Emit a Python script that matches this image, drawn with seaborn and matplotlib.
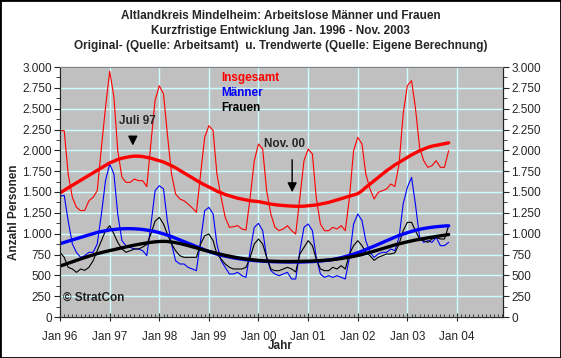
import pandas as pd
import seaborn as sns
import matplotlib.pyplot as plt
import matplotlib.dates as mdates
from matplotlib.ticker import FuncFormatter, MultipleLocator
from matplotlib.patches import Rectangle

sns.set_style("ticks")
plt.rcParams['font.family'] = ['Liberation Sans', 'DejaVu Sans']

# monthly values Jan 1996 - Nov 2003
months = pd.date_range('1996-01-01', periods=95, freq='MS')

insgesamt = [
    2236, 2236, 1716, 1436, 1316, 1276, 1280, 1396, 1436, 1516, 2036, 2516,
    2950, 2636, 1996, 1676, 1616, 1616, 1656, 1636, 1636, 1564, 2100, 2600,
    2776, 2676, 2200, 1716, 1476, 1416, 1396, 1356, 1308, 1256, 1716, 2156,
    2296, 2236, 1716, 1436, 1196, 1076, 1084, 1096, 1056, 1044, 1436, 1876,
    2076, 2016, 1516, 1236, 1076, 1036, 1056, 1096, 1036, 996, 1436, 1876,
    2016, 1956, 1436, 1116, 1036, 1036, 1076, 1056, 1096, 1036, 1436, 1996,
    2156, 2076, 1716, 1536, 1416, 1496, 1516, 1536, 1596, 1566, 1836, 2436,
    2776, 2836, 2516, 2036, 1876, 1796, 1816, 1876, 1796, 1796, 1996]

maenner = [
    1450, 1460, 1156, 876, 776, 716, 736, 776, 776, 876, 1236, 1636,
    1836, 1716, 1236, 916, 856, 836, 816, 816, 796, 736, 1116, 1516,
    1576, 1536, 1156, 876, 676, 636, 636, 596, 576, 556, 916, 1276,
    1316, 1236, 876, 676, 596, 516, 516, 536, 496, 476, 796, 1076,
    1124, 1036, 716, 556, 516, 496, 516, 536, 456, 456, 796, 1076,
    1116, 1036, 716, 516, 476, 496, 476, 496, 476, 456, 716, 1116,
    1236, 1156, 916, 776, 716, 756, 776, 776, 816, 796, 956, 1356,
    1556, 1676, 1356, 956, 896, 916, 896, 956, 856, 856, 896]

frauen = [
    776, 716, 596, 576, 536, 576, 560, 596, 676, 796, 916, 1036,
    1096, 996, 896, 816, 776, 796, 816, 816, 840, 870, 1000, 1150,
    1196, 1116, 996, 876, 796, 736, 716, 716, 716, 716, 876, 976,
    996, 916, 756, 696, 636, 596, 576, 576, 576, 596, 716, 876,
    936, 876, 716, 576, 556, 556, 576, 596, 576, 540, 756, 836,
    916, 856, 696, 576, 556, 556, 596, 576, 616, 576, 756, 856,
    916, 856, 776, 736, 680, 716, 736, 756, 756, 770, 876, 1036,
    1136, 1136, 1036, 936, 916, 896, 936, 956, 936, 936, 1096]

trend_insgesamt = [
    1490, 1520, 1550, 1580, 1610, 1640, 1670, 1700, 1730, 1760, 1790, 1820,
    1850, 1870, 1890, 1905, 1915, 1925, 1930, 1930, 1925, 1915, 1905, 1890,
    1875, 1860, 1840, 1815, 1790, 1760, 1730, 1700, 1670, 1640, 1610, 1585,
    1560, 1535, 1510, 1490, 1470, 1455, 1440, 1425, 1415, 1405, 1395, 1390,
    1385, 1375, 1365, 1355, 1348, 1342, 1338, 1334, 1331, 1329, 1328, 1330,
    1335, 1340, 1345, 1355, 1365, 1375, 1390, 1405, 1420, 1435, 1450, 1465,
    1480, 1515, 1555, 1595, 1635, 1675, 1715, 1755, 1790, 1825, 1855, 1885,
    1915, 1945, 1970, 1995, 2015, 2035, 2050, 2060, 2070, 2080, 2090]

trend_maenner = [
    880, 895, 910, 925, 940, 955, 970, 985, 1000, 1015, 1025, 1035,
    1045, 1050, 1055, 1058, 1060, 1060, 1058, 1055, 1050, 1043, 1035, 1025,
    1012, 998, 982, 965, 945, 925, 905, 885, 865, 845, 825, 805,
    785, 770, 755, 742, 730, 720, 710, 702, 695, 688, 682, 677,
    673, 670, 667, 665, 663, 662, 661, 660, 660, 660, 660, 661,
    663, 665, 668, 672, 677, 683, 690, 700, 712, 725, 740, 755,
    772, 790, 810, 830, 850, 872, 893, 915, 937, 958, 978, 995,
    1012, 1027, 1040, 1052, 1062, 1070, 1077, 1083, 1088, 1092, 1095]

trend_frauen = [
    612, 628, 645, 662, 680, 697, 713, 730, 745, 760, 773, 785,
    797, 808, 819, 830, 841, 852, 862, 872, 881, 889, 896, 902,
    906, 908, 906, 900, 892, 882, 870, 857, 843, 829, 815, 801,
    788, 775, 763, 751, 740, 730, 720, 711, 703, 696, 690, 684,
    679, 675, 672, 670, 668, 667, 666, 666, 666, 667, 668, 669,
    670, 672, 674, 677, 680, 684, 689, 695, 702, 710, 718, 728,
    738, 750, 762, 775, 790, 805, 820, 835, 850, 865, 878, 890,
    902, 913, 923, 932, 941, 950, 958, 966, 974, 982, 990]

series_names = ['Insgesamt', 'Männer', 'Frauen']
colors = ['#FF0000', '#0000FF', '#000000']

fig = plt.figure(figsize=(5.61, 3.58), dpi=100)
ax = fig.add_axes([60 / 561, 1 - 317 / 358, 443 / 561, 250 / 358])
ax.set_facecolor('#C0C0C0')

for vals, c in zip([insgesamt, maenner, frauen], colors):
    sns.lineplot(x=months, y=vals, color=c, linewidth=0.8, ax=ax)
for vals, c in zip([trend_insgesamt, trend_maenner, trend_frauen], colors):
    sns.lineplot(x=months, y=vals, color=c, linewidth=2.4, ax=ax)

thousands = FuncFormatter(lambda v, p: f"{v:,.0f}".replace(",", "."))

ax.set_xlim(pd.Timestamp('1996-01-01'), pd.Timestamp('2004-12-05'))
ax.set_ylim(0, 3000)
ax.yaxis.set_major_locator(MultipleLocator(250))
ax.yaxis.set_minor_locator(MultipleLocator(125))
ax.yaxis.set_major_formatter(thousands)
ax.xaxis.set_major_locator(mdates.YearLocator())
ax.xaxis.set_minor_locator(mdates.MonthLocator())
ax.xaxis.set_major_formatter(mdates.DateFormatter('Jan %y'))
ax.set_xlabel('')
ax.set_ylabel('')
ax.grid(True, which='major', color='#CCFFFF', linewidth=1)
ax.tick_params(axis='y', which='major', direction='out', length=4, labelsize=8.5, pad=2)
ax.tick_params(axis='y', which='minor', direction='out', length=3)
ax.tick_params(axis='x', which='major', direction='inout', length=6, labelsize=8.5, pad=7)
ax.tick_params(axis='x', which='minor', direction='in', length=2)
for s in ['left', 'bottom', 'right']:
    ax.spines[s].set_color('black')
ax.spines['top'].set_color('#808080')

ax2 = ax.twinx()
ax2.set_ylim(0, 3000)
ax2.yaxis.set_major_locator(MultipleLocator(250))
ax2.yaxis.set_minor_locator(MultipleLocator(125))
ax2.yaxis.set_major_formatter(thousands)
ax2.tick_params(axis='y', which='major', direction='out', length=4, labelsize=8.5, pad=2)
ax2.tick_params(axis='y', which='minor', direction='out', length=3)
ax2.spines['right'].set_visible(True)
ax2.spines['top'].set_color('#808080')

# legend as coloured text
for i, (name, c) in enumerate(zip(series_names, colors)):
    ax.text(0.363, 0.956 - i * 0.06, name, color=c, fontsize=8.5,
            fontweight='bold', transform=ax.transAxes, va='center')

# annotations
ax.annotate('', xy=(pd.Timestamp('1997-06-20'), 2024), xytext=(pd.Timestamp('1997-06-20'), 2170),
            arrowprops=dict(arrowstyle='-|>', color='black', lw=1, mutation_scale=14))
ax.text(pd.Timestamp('1997-07-25'), 2350, 'Juli 97', fontsize=8.5, fontweight='bold',
        ha='center', va='center')
ax.annotate('', xy=(pd.Timestamp('2000-09-05'), 1464), xytext=(pd.Timestamp('2000-09-05'), 1920),
            arrowprops=dict(arrowstyle='-|>', color='black', lw=1, mutation_scale=14))
ax.text(pd.Timestamp('2000-07-10'), 2076, 'Nov. 00', fontsize=8.5, fontweight='bold',
        ha='center', va='center')
ax.text(0.007, 0.076, '© StratCon', fontsize=8.5, fontweight='bold', color='#202020',
        transform=ax.transAxes, va='center')

# titles and axis labels
fig.text(0.5, 1 - 16 / 358, 'Altlandkreis Mindelheim: Arbeitslose Männer und Frauen',
         ha='center', va='center', fontsize=8.5, fontweight='bold')
fig.text(0.5, 1 - 31 / 358, 'Kurzfristige Entwicklung Jan. 1996 - Nov. 2003',
         ha='center', va='center', fontsize=8.5, fontweight='bold')
fig.text(0.5, 1 - 46 / 358, 'Original- (Quelle: Arbeitsamt)  u. Trendwerte (Quelle: Eigene Berechnung)',
         ha='center', va='center', fontsize=8.5, fontweight='bold')
fig.text(14 / 561, 1 - 212 / 358, 'Anzahl Personen', rotation=90, ha='center', va='center',
         fontsize=8.5, fontweight='bold')
fig.text(280 / 561, 1 - 346 / 358, 'Jahr', ha='center', va='center', fontsize=8.5, fontweight='bold')

fig.patches.append(Rectangle((0, 0), 1, 1, transform=fig.transFigure, fill=False,
                             edgecolor='black', linewidth=2))

plt.savefig('out.png', dpi=100)
